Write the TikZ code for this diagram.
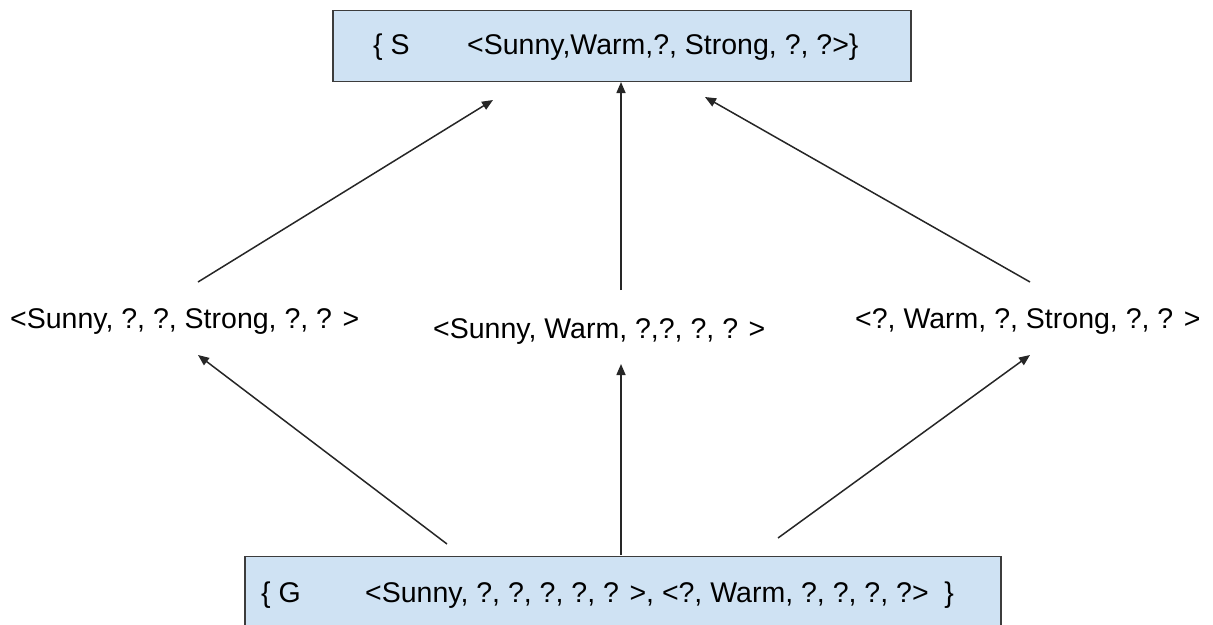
\documentclass[tikz,border=0pt]{standalone}
\usepackage{fontspec}
\setmainfont{Liberation Sans}
\usetikzlibrary{arrows.meta}
\definecolor{boxfill}{HTML}{CFE2F3}
\definecolor{boxline}{HTML}{3C3C3C}
\begin{document}
\begin{tikzpicture}[x=1pt,y=-1pt,
  box/.style={draw=boxline,line width=1.6pt,fill=boxfill,inner sep=0pt},
  txt/.style={inner sep=0pt,anchor=base west,font=\fontsize{28.5}{34}\selectfont},
  arr/.style={draw=black!85,line width=1.5pt,-{Triangle[length=11pt,width=9pt]}}]
\useasboundingbox (0,0) rectangle (1213,624);
% top box
\node[box,anchor=north west,minimum width=578pt,minimum height=71pt] (S) at (332,9.5) {};
\node[txt] (S1) at (373,54) {\{ S};
\node[txt] (S2) at (467,54) {<Sunny,Warm,?, Strong, ?, ?>\}};
% bottom box
\node[box,anchor=north west,minimum width=756pt,minimum height=90pt] (G) at (244,555.5) {};
\node[txt] (G1) at (261,602) {\{ G};
\node[txt] (G2) at (365,602) {<Sunny, ?, ?, ?, ?, ? >, <?, Warm, ?, ?, ?, ?>\ \ \}};
% middle labels
\node[txt] (L) at (10,328) {<Sunny, ?, ?, Strong, ?, ? >};
\node[txt] (M) at (433,338) {<Sunny, Warm, ?,?, ?, ? >};
\node[txt] (R) at (855,328) {<?, Warm, ?, Strong, ?, ? >};
% arrow endpoints
\coordinate (lt) at (198,282); \coordinate (lh) at (493,100);
\coordinate (mt) at (621,290); \coordinate (mh) at (621,82);
\coordinate (rt) at (1030,282); \coordinate (rh) at (705,97);
\coordinate (blt) at (447,544); \coordinate (blh) at (198,355);
\coordinate (bmt) at (621,555); \coordinate (bmh) at (621,364);
\coordinate (brt) at (778,538); \coordinate (brh) at (1030,355);
\draw[arr] (lt) -- (lh);
\draw[arr] (mt) -- (mh);
\draw[arr] (rt) -- (rh);
\draw[arr] (blt) -- (blh);
\draw[arr] (bmt) -- (bmh);
\draw[arr] (brt) -- (brh);
\end{tikzpicture}
\end{document}
